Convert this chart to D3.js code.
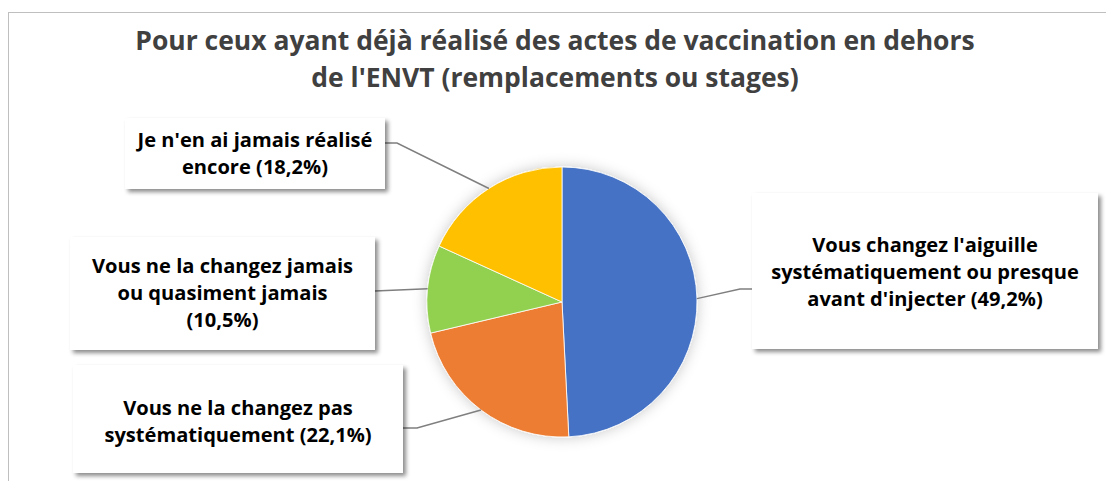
<!DOCTYPE html>
<html><head><meta charset="utf-8">
<script src="https://cdn.jsdelivr.net/npm/d3@7"></script>
<style>
html,body{margin:0;padding:0;background:#fff;}
svg{display:block;}
</style></head>
<body>
<svg id="chart" width="1106" height="481"></svg>
<script>
// ---- data ----
const titleLines = ["Pour ceux ayant déjà réalisé des actes de vaccination en dehors", "de l'ENVT (remplacements ou stages)"];
const categories = [
  "Vous changez l'aiguille systématiquement ou presque avant d'injecter",
  "Vous ne la changez pas systématiquement",
  "Vous ne la changez jamais ou quasiment jamais",
  "Je n'en ai jamais réalisé encore"
];
const values = [49.2, 22.1, 10.5, 18.2];
const colors = ["#4472C4", "#ED7D31", "#92D050", "#FFC000"];
const labelLines = [
  ["Vous changez l'aiguille", "systématiquement ou presque", "avant d'injecter"],
  ["Vous ne la changez pas", "systématiquement"],
  ["Vous ne la changez jamais", "ou quasiment jamais", ""],
  ["Je n'en ai jamais réalisé", "encore"]
];

// ---- layout ----
const svg = d3.select("#chart");
const W = 1106, H = 481;
const cx = 562, cy = 302, R = 135;
const fontFam = "'Open Sans', sans-serif";

const defs = svg.append("defs");
const fs = defs.append("filter").attr("id","boxShadow").attr("x","-10%").attr("y","-10%").attr("width","130%").attr("height","140%");
fs.append("feDropShadow").attr("dx",3).attr("dy",3).attr("stdDeviation",2).attr("flood-color","#000").attr("flood-opacity",0.45);
const fp = defs.append("filter").attr("id","pieShadow").attr("x","-20%").attr("y","-20%").attr("width","140%").attr("height","140%");
fp.append("feDropShadow").attr("dx",0).attr("dy",0).attr("stdDeviation",7).attr("flood-color","#000").attr("flood-opacity",0.22);

// chart area border
svg.append("rect").attr("x",8.5).attr("y",12.5).attr("width",W+20).attr("height",H+20)
  .attr("fill","#fff").attr("stroke","#BFBFBF").attr("stroke-width",1);

// fit helper: scale font so a line reaches a target width
function fitText(sel, target){
  const w = sel.node().getComputedTextLength();
  const f = parseFloat(sel.attr("font-size"));
  return f * target / w;
}

// title
const tg = svg.append("g");
const tt = tg.selectAll("text").data(titleLines).join("text")
  .attr("x",555).attr("y",(d,i)=>50+i*37)
  .attr("text-anchor","middle")
  .attr("font-family",fontFam).attr("font-weight",700).attr("font-size",24)
  .attr("fill","#404040")
  .text(d=>d);
const tfs = fitText(d3.select(tt.nodes()[0]), 840);
tt.attr("font-size", tfs);

// pie
const pie = d3.pie().sort(null).value(d=>d)(values);
const arc = d3.arc().innerRadius(0).outerRadius(R);
const edgeArc = d3.arc().innerRadius(R).outerRadius(R);
const pg = svg.append("g").attr("transform",`translate(${cx},${cy})`);
pg.append("g").attr("filter","url(#pieShadow)").selectAll("path").data(pie).join("path")
  .attr("d",arc).attr("fill",(d,i)=>colors[i]).attr("stroke","#fff").attr("stroke-width",0.8);

// label boxes (x, y, w, h) and leader attachments
const boxes = [
  {x:752, y:193, w:346, h:156, side:"left",  ay:289, stub:12, dy:1},
  {x:73,  y:365, w:330, h:108, side:"right", ay:428, stub:14, dy:3},
  {x:70,  y:237, w:305, h:113, side:"right", ay:291, stub:0,  dy:0},
  {x:125, y:118, w:260, h:71,  side:"right", ay:143, stub:12, dy:0}
];
const lineH = 27;
const fmt = v => d3.format(".1f")(v).replace(".",",") + "%";

// leader lines
const lg = svg.append("g");
pie.forEach((p,i)=>{
  const b = boxes[i];
  const c = edgeArc.centroid(p);
  const px = cx + c[0], py = cy + c[1];
  const bx = b.side==="left" ? b.x : b.x + b.w;
  const sx = b.side==="left" ? bx - b.stub : bx + b.stub;
  lg.append("polyline")
    .attr("points",`${bx},${b.ay} ${sx},${b.ay} ${px},${py}`)
    .attr("fill","none").attr("stroke","#7F7F7F").attr("stroke-width",1.5);
});

// boxes + text
const bg = svg.append("g");
const allLabelTexts = [];
boxes.forEach((b,i)=>{
  bg.append("rect").attr("x",b.x).attr("y",b.y).attr("width",b.w).attr("height",b.h)
    .attr("fill","#fff").attr("filter","url(#boxShadow)");
  const lines = labelLines[i].slice();
  const last = lines.length-1;
  lines[last] = lines[last] ? lines[last] + " (" + fmt(values[i]) + ")" : "(" + fmt(values[i]) + ")";
  const n = lines.length;
  const midY = b.y + b.h/2 + b.dy;
  const t = bg.append("g").selectAll("text").data(lines).join("text")
    .attr("x", b.x + b.w/2)
    .attr("y", (d,j)=> midY + (j - (n-1)/2)*lineH + 6.5)
    .attr("text-anchor","middle")
    .attr("font-family",fontFam).attr("font-weight",700).attr("font-size",18)
    .attr("fill","#000")
    .text(d=>d);
  allLabelTexts.push(t);
});
// fit label font to "Je n'en ai jamais réalisé" width (235px)
const lfs = fitText(d3.select(allLabelTexts[3].nodes()[0]), 235);
allLabelTexts.forEach(t=>t.attr("font-size", lfs));
</script>
</body></html>
